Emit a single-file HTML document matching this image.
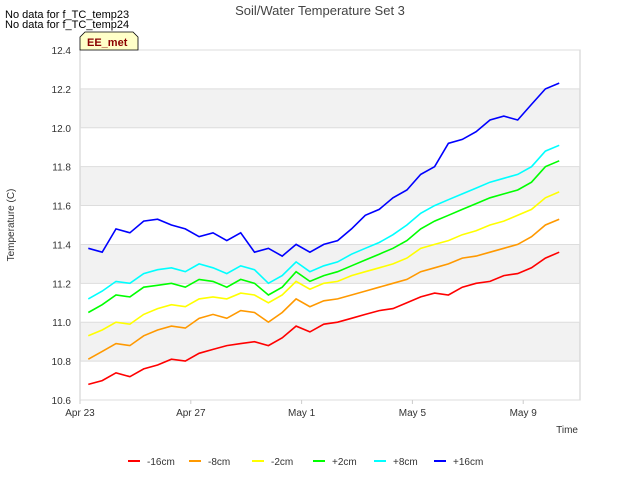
<!DOCTYPE html>
<html><head><meta charset="utf-8"><style>
body{margin:0;background:#fff;font-family:"Liberation Sans",sans-serif;}
svg text{font-family:"Liberation Sans",sans-serif;}
</style></head><body>
<svg id="c" width="640" height="480" xmlns="http://www.w3.org/2000/svg">
<text x="320" y="15" text-anchor="middle" font-size="13" fill="#444">Soil/Water Temperature Set 3</text>
<text x="5" y="18" font-size="11" fill="#000">No data for f_TC_temp23</text>
<text x="5" y="28" font-size="11" fill="#000">No data for f_TC_temp24</text>
<g id="bands"></g>
<rect x="80" y="50" width="500" height="350" fill="none" stroke="#ccc"/>
<g id="axes"></g>
<g id="series"></g>
<g>
<path d="M80,50 L80,37 L85,32 L133,32 L138,37 L138,50 Z" fill="#ffffc8" stroke="#000" stroke-width="0.8"/>
<text x="87" y="46" font-size="11" font-weight="bold" fill="#8b0000">EE_met</text>
</g>
<text x="14" y="225" font-size="10" fill="#333" text-anchor="middle" transform="rotate(-90 14 225)">Temperature (C)</text>
<text x="578" y="433" font-size="10" fill="#333" text-anchor="end">Time</text>
<g id="legend"></g>
</svg>
<script>
const days = [0.3,0.8,1.3,1.8,2.3,2.8,3.3,3.8,4.3,4.8,5.3,5.8,6.3,6.8,7.3,7.8,8.3,8.8,9.3,9.8,10.3,10.8,11.3,11.8,12.3,12.8,13.3,13.8,14.3,14.8,15.3,15.8,16.3,16.8,17.3];
const seriesNames = ["-16cm","-8cm","-2cm","+2cm","+8cm","+16cm"];
const seriesColors = ["#ff0000","#ff9900","#ffff00","#00ff00","#00ffff","#0000ff"];
const red = [10.68,10.70,10.74,10.72,10.76,10.78,10.81,10.80,10.84,10.86,10.88,10.89,10.90,10.88,10.92,10.98,10.95,10.99,11.00,11.02,11.04,11.06,11.07,11.10,11.13,11.15,11.14,11.18,11.20,11.21,11.24,11.25,11.28,11.33,11.36];
const orange = [10.81,10.85,10.89,10.88,10.93,10.96,10.98,10.97,11.02,11.04,11.02,11.06,11.05,11.00,11.05,11.12,11.08,11.11,11.12,11.14,11.16,11.18,11.20,11.22,11.26,11.28,11.30,11.33,11.34,11.36,11.38,11.40,11.44,11.50,11.53];
const yellow = [10.93,10.96,11.00,10.99,11.04,11.07,11.09,11.08,11.12,11.13,11.12,11.15,11.14,11.10,11.14,11.21,11.17,11.20,11.21,11.24,11.26,11.28,11.30,11.33,11.38,11.40,11.42,11.45,11.47,11.50,11.52,11.55,11.58,11.64,11.67];
const green = [11.05,11.09,11.14,11.13,11.18,11.19,11.20,11.18,11.22,11.21,11.18,11.22,11.20,11.14,11.18,11.26,11.21,11.24,11.26,11.29,11.32,11.35,11.38,11.42,11.48,11.52,11.55,11.58,11.61,11.64,11.66,11.68,11.72,11.80,11.83];
const cyan = [11.12,11.16,11.21,11.20,11.25,11.27,11.28,11.26,11.30,11.28,11.25,11.29,11.27,11.20,11.24,11.31,11.26,11.29,11.31,11.35,11.38,11.41,11.45,11.50,11.56,11.60,11.63,11.66,11.69,11.72,11.74,11.76,11.80,11.88,11.91];
const blue = [11.38,11.36,11.48,11.46,11.52,11.53,11.50,11.48,11.44,11.46,11.42,11.46,11.36,11.38,11.34,11.40,11.36,11.40,11.42,11.48,11.55,11.58,11.64,11.68,11.76,11.80,11.92,11.94,11.98,12.04,12.06,12.04,12.12,12.20,12.23];
const yTicks = [10.6,10.8,11.0,11.2,11.4,11.6,11.8,12.0,12.2,12.4];
const xTickDays = [0,4,8,12,16];
const xTickLabels = ["Apr 23","Apr 27","May 1","May 5","May 9"];

const NS="http://www.w3.org/2000/svg";
const X0=80,X1=580,Y0=400,Y1=50,DMIN=0,DMAX=18.05,VMIN=10.6,VMAX=12.4;
function xs(d){return X0+(d-DMIN)/(DMAX-DMIN)*(X1-X0);}
function ys(v){return Y0-(v-VMIN)/(VMAX-VMIN)*(Y0-Y1);}
function mk(tag,attrs,parent){const e=document.createElementNS(NS,tag);for(const k in attrs)e.setAttribute(k,attrs[k]);parent.appendChild(e);return e;}
const bands=document.getElementById('bands'),axes=document.getElementById('axes'),sg=document.getElementById('series'),lg=document.getElementById('legend');
for(let i=0;i<yTicks.length-1;i++){
  if(i%2===1){
    const r=mk('rect',{x:X0,y:ys(yTicks[i+1]),width:X1-X0,height:ys(yTicks[i])-ys(yTicks[i+1]),fill:'#f2f2f2'},bands);
    
    
  }
}
yTicks.forEach(v=>{
  const l=mk('line',{x1:X0,x2:X1,y1:ys(v),y2:ys(v),stroke:'#ddd'},axes);
  
  
  const t=mk('text',{x:X0-9,y:ys(v)+4,'font-size':10,fill:'#333','text-anchor':'end'},axes);
  t.textContent=v.toFixed(1);
  
  
});
xTickDays.forEach((d,i)=>{
  const l=mk('line',{x1:xs(d),x2:xs(d),y1:Y0,y2:Y0+4,stroke:'#ccc'},axes);
  
  
  const t=mk('text',{x:xs(d),y:Y0+16,'font-size':10,fill:'#333','text-anchor':'middle'},axes);
  t.textContent=xTickLabels[i];
  
  
});
const all=[red,orange,yellow,green,cyan,blue];
all.forEach((arr,si)=>{
  const pts=arr.map((v,i)=>xs(days[i]).toFixed(1)+','+ys(v).toFixed(1)).join(' ');
  const p=mk('polyline',{points:pts,fill:'none',stroke:seriesColors[si],'stroke-width':1.6},sg);
  
  
});
const lx=[128,189,252,313,374,434];
seriesNames.forEach((n,i)=>{
  const g=mk('g',{},lg);
  
  
  mk('line',{x1:lx[i],x2:lx[i]+12,y1:461,y2:461,stroke:seriesColors[i],'stroke-width':2},g);
  const t=mk('text',{x:lx[i]+19,y:465,'font-size':10,fill:'#333'},g);
  t.textContent=n;
});
</script>
</body></html>
